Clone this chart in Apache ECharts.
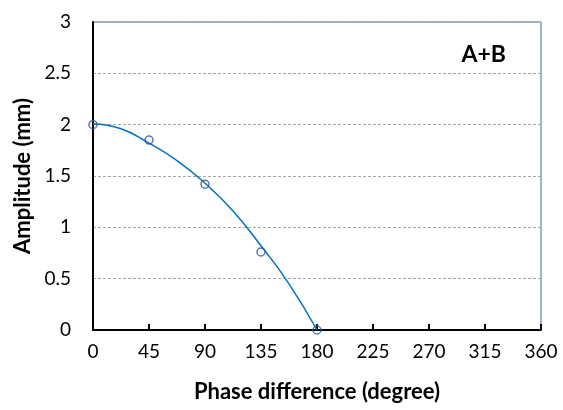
<!DOCTYPE html>
<html>
<head>
    <meta charset="utf-8">
    <title>A+B</title>
    <script type="text/javascript" src="https://cdn.jsdelivr.net/npm/echarts@6/dist/echarts.min.js"></script>
</head>
<body style="margin:0">
<div id="main" style="width:563px;height:410px;"></div>
<script type="text/javascript">
    // measured points
    var phase = [0, 45, 90, 135, 180];
    var amplitude = [2.0, 1.85, 1.42, 0.76, 0];
    // trendline
    var trendX = [0, 22.5, 45, 67.5, 90, 112.5, 135, 157.5, 180];
    var trendY = [2.01, 1.96, 1.82, 1.65, 1.43, 1.16, 0.82, 0.45, 0];
    var xTicks = [0, 45, 90, 135, 180, 225, 270, 315, 360];

    var font = 'Lato';
    var myChart = echarts.init(document.getElementById('main'));

    var option = {
        animation: false,
        textStyle: {fontFamily: font},
        title: {
            text: 'A+B',
            right: 52, top: 38,
            textStyle: {fontFamily: font, fontSize: 23, fontWeight: 'bold', color: '#000'}
        },
        grid: {
            left: 93, right: 22, top: 22, bottom: 80,
            show: true, borderColor: '#44659a', borderWidth: 1
        },
        xAxis: {
            type: 'value', min: 0, max: 360, interval: 45,
            name: 'Phase difference (degree)',
            nameLocation: 'middle', nameGap: 51,
            nameTextStyle: {fontFamily: font, fontSize: 22, fontWeight: 'bold', color: '#000'},
            axisLine: {lineStyle: {color: '#000', width: 2}},
            axisTick: {show: true, inside: true, length: 6, lineStyle: {color: '#000', width: 2}},
            axisLabel: {
                fontSize: 19, color: '#000', margin: 12,
                formatter: function (v) { return xTicks.indexOf(v) >= 0 ? String(v) : ''; }
            },
            splitLine: {show: false}
        },
        yAxis: {
            type: 'value', min: 0, max: 3, interval: 0.5,
            name: 'Amplitude (mm)',
            nameLocation: 'middle', nameGap: 57,
            nameTextStyle: {fontFamily: font, fontSize: 22, fontWeight: 'bold', color: '#000'},
            axisLine: {show: true, lineStyle: {color: '#000', width: 2}},
            axisTick: {show: false},
            axisLabel: {fontSize: 19, color: '#000', margin: 22},
            splitLine: {lineStyle: {color: '#a6a6a6', type: [3, 2], width: 1}}
        },
        series: [{
            name: 'trend',
            type: 'line',
            smooth: true,
            showSymbol: false,
            lineStyle: {color: '#0070c0', width: 1.5},
            data: trendX.map(function (x, i) { return [x, trendY[i]]; }),
            z: 2
        }, {
            name: 'data',
            type: 'scatter',
            symbol: 'circle',
            symbolSize: 8,
            itemStyle: {color: 'rgba(255,255,255,0)', borderColor: '#2f5597', borderWidth: 1.5},
            data: phase.map(function (x, i) { return [x, amplitude[i]]; }),
            z: 3
        }]
    };
    myChart.setOption(option);
</script>
</body>
</html>
